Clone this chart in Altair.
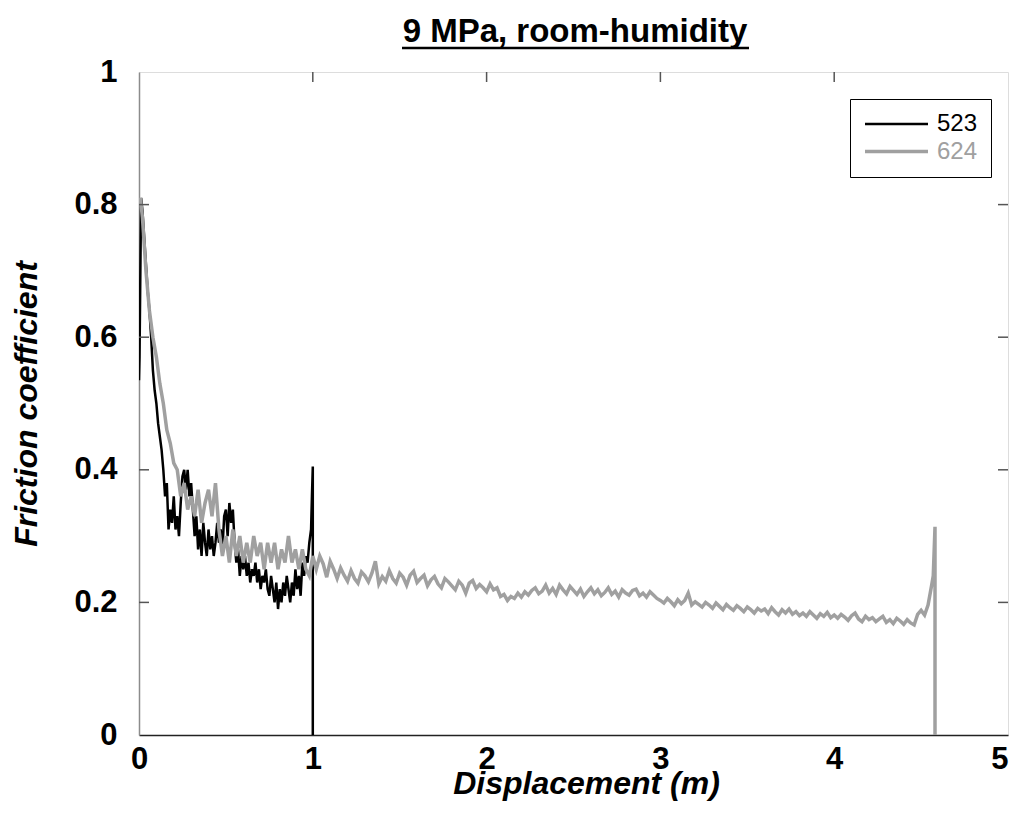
import altair as alt
import pandas as pd

# ---------------- data ----------------
series_names = ["523", "624"]
chart_title = "9 MPa, room-humidity"

# run 523 (black): head points, regular body (step 0.01 from 0.02), tail
x523_head = [0.0, 0.003, 0.012]
y523_head = [0.535, 0.57, 0.81]
x523_body_start, x523_body_step = 0.02, 0.01
y523_body = [
    0.79, 0.75, 0.71, 0.67, 0.64, 0.60, 0.55, 0.52, 0.50, 0.47,
    0.45, 0.43, 0.40, 0.36, 0.38, 0.31, 0.34, 0.32, 0.36, 0.31,
    0.33, 0.30, 0.35, 0.39, 0.40, 0.37, 0.40, 0.36, 0.38, 0.34,
    0.30, 0.33, 0.28, 0.31, 0.27, 0.32, 0.29, 0.27, 0.31, 0.28,
    0.30, 0.27, 0.29, 0.32, 0.29, 0.31, 0.28, 0.33, 0.34, 0.30,
    0.35, 0.32, 0.34, 0.29, 0.26, 0.28, 0.24, 0.27, 0.25, 0.27,
    0.24, 0.26, 0.23, 0.25, 0.24, 0.26, 0.23, 0.25, 0.22, 0.24,
    0.23, 0.25, 0.22, 0.21, 0.24, 0.22, 0.20, 0.23, 0.19, 0.22,
    0.20, 0.23, 0.21, 0.24, 0.22, 0.20, 0.23, 0.21, 0.25, 0.22,
    0.24, 0.21, 0.26, 0.24, 0.27, 0.26, 0.29, 0.31,
]
x523_tail = [0.995, 1.0, 1.0]
y523_tail = [0.36, 0.405, 0.0]

# run 624 (grey): head, regular body (step 0.02 from 0.02), tail
x624_head = [0.0, 0.008]
y624_head = [0.80, 0.81]
x624_body_start, x624_body_step = 0.02, 0.02
y624_body = [
    0.78, 0.70, 0.64, 0.60, 0.57, 0.53, 0.50, 0.46, 0.44, 0.41,
    0.40, 0.36, 0.38, 0.34, 0.36, 0.33, 0.37, 0.32, 0.35, 0.37,
    0.33, 0.38, 0.31, 0.27, 0.30, 0.26, 0.31, 0.27, 0.30, 0.26,
    0.29, 0.26, 0.30, 0.27, 0.29, 0.25, 0.29, 0.26, 0.29, 0.25,
    0.28, 0.26, 0.30, 0.26, 0.28, 0.25, 0.28, 0.25, 0.24, 0.27,
    0.25, 0.27, 0.258, 0.238, 0.262, 0.25, 0.236, 0.252, 0.241, 0.232,
    0.248, 0.236, 0.229, 0.246, 0.24, 0.231, 0.244, 0.262, 0.228, 0.239,
    0.232, 0.248, 0.236, 0.229, 0.244, 0.238, 0.226, 0.241, 0.247, 0.23,
    0.236, 0.241, 0.225, 0.234, 0.239, 0.228, 0.222, 0.236, 0.231, 0.225,
    0.219, 0.232, 0.226, 0.214, 0.229, 0.233, 0.221, 0.227, 0.222, 0.216,
    0.228, 0.219, 0.222, 0.209, 0.212, 0.203, 0.209, 0.206, 0.214, 0.208,
    0.216, 0.211, 0.218, 0.222, 0.213, 0.217, 0.226, 0.214, 0.221, 0.212,
    0.226, 0.219, 0.213, 0.224, 0.218, 0.212, 0.22, 0.209, 0.216, 0.222,
    0.213, 0.219, 0.21, 0.215, 0.222, 0.212, 0.217, 0.208, 0.219, 0.214,
    0.211, 0.218, 0.22, 0.21, 0.214, 0.208, 0.216, 0.211, 0.206, 0.203,
    0.199, 0.206, 0.201, 0.195, 0.204, 0.198, 0.203, 0.214, 0.196, 0.201,
    0.197, 0.193, 0.2, 0.196, 0.191, 0.199, 0.194, 0.189, 0.197, 0.192,
    0.188, 0.195, 0.191, 0.186, 0.193, 0.189, 0.184, 0.191, 0.187, 0.19,
    0.183, 0.192, 0.186, 0.181, 0.189, 0.184, 0.19, 0.182, 0.186, 0.18,
    0.184, 0.179, 0.186, 0.181, 0.176, 0.183, 0.179, 0.185, 0.177, 0.181,
    0.176, 0.182, 0.178, 0.173, 0.18, 0.184, 0.175, 0.171, 0.179, 0.174,
    0.177, 0.171, 0.175, 0.179, 0.17, 0.174, 0.168, 0.176, 0.172, 0.167,
    0.174, 0.169, 0.166, 0.182, 0.188, 0.181, 0.196, 0.225,
]
x624_tail = [4.57, 4.58, 4.58]
y624_tail = [0.24, 0.314, 0.0]

x_ticks = [0, 1, 2, 3, 4, 5]
y_ticks = [0, 0.2, 0.4, 0.6, 0.8, 1]
inner_x_ticks = [1, 2, 3, 4]
inner_y_ticks = [0.2, 0.4, 0.6, 0.8]


def build(name, xh, yh, start, step, yb, xt, yt):
    xb = [round(start + step * i, 4) for i in range(len(yb))]
    xs = list(xh) + xb + list(xt)
    ys = list(yh) + list(yb) + list(yt)
    return pd.DataFrame({"x": xs, "y": ys, "series": name, "order": range(len(xs))})


df = pd.concat([
    build("523", x523_head, y523_head, x523_body_start, x523_body_step, y523_body, x523_tail, y523_tail),
    build("624", x624_head, y624_head, x624_body_start, x624_body_step, y624_body, x624_tail, y624_tail),
], ignore_index=True)

# ---------------- style ----------------
FONT = "Liberation Sans"
W, H = 869, 663
BLACK, GREY = "#000000", "#a0a0a0"
TICK_LEN = 10

xscale = alt.Scale(domain=[0, 5], nice=False, zero=False)
yscale = alt.Scale(domain=[0, 1], nice=False)

lines = alt.Chart(df).mark_line(clip=True, strokeJoin="miter").encode(
    x=alt.X("x:Q", scale=xscale,
            axis=alt.Axis(values=x_ticks, format="d", ticks=False, grid=False,
                          domainColor="#222222", domainWidth=1.5,
                          labelFont=FONT, labelFontSize=31, labelFontWeight="bold",
                          labelColor="#000000", labelPadding=9, labelFlush=False,
                          labelAlign=alt.ExprRef("datum.value >= 5 ? 'right' : 'center'"),
                          title="Displacement (m)", titleFont=FONT, titleFontSize=32,
                          titleFontWeight="bold", titleFontStyle="italic",
                          titleColor="#000000", titleBaseline="alphabetic",
                          titleY=58, titleX=447)),
    y=alt.Y("y:Q", scale=yscale,
            axis=alt.Axis(values=y_ticks, format="~g", ticks=False, grid=False,
                          domainColor="#8c8c8c", domainWidth=1.5,
                          labelFont=FONT, labelFontSize=31, labelFontWeight="bold",
                          labelColor="#000000", labelPadding=22,
                          title="Friction coefficient", titleFont=FONT, titleFontSize=32,
                          titleFontWeight="bold", titleFontStyle="italic",
                          titleColor="#000000", titleBaseline="alphabetic",
                          titleX=-103)),
    color=alt.Color("series:N",
                    scale=alt.Scale(domain=series_names, range=[BLACK, GREY]),
                    legend=alt.Legend(title=None, orient="none", legendX=711, legendY=27,
                                      strokeColor="#000000", fillColor="#ffffff",
                                      padding=13, rowPadding=3,
                                      symbolType="M-1,0H5", symbolSize=441,
                                      symbolStrokeWidth=2,
                                      labelFont=FONT, labelFontSize=24,
                                      labelOffset=49,
                                      labelColor=alt.ExprRef("datum.label == '523' ? '#000000' : '#a0a0a0'"))),
    strokeWidth=alt.StrokeWidth("series:N",
                                scale=alt.Scale(domain=series_names, range=[2.5, 3.5]),
                                legend=None),
    order=alt.Order("order:Q"),
)

tick_style = dict(color="#555555", strokeWidth=1.5)

left_ticks = alt.Chart(pd.DataFrame({"v": inner_y_ticks})).mark_rule(**tick_style).encode(
    y=alt.Y("v:Q", scale=yscale), x=alt.value(0), x2=alt.value(TICK_LEN))
right_ticks = alt.Chart(pd.DataFrame({"v": inner_y_ticks})).mark_rule(**tick_style).encode(
    y=alt.Y("v:Q", scale=yscale), x=alt.value(W - TICK_LEN), x2=alt.value(W))
top_ticks = alt.Chart(pd.DataFrame({"v": inner_x_ticks})).mark_rule(**tick_style).encode(
    x=alt.X("v:Q", scale=xscale), y=alt.value(0), y2=alt.value(TICK_LEN))

# chart title (bold, underlined) drawn as text + rule
title_text = alt.Chart(pd.DataFrame({"t": [chart_title]})).mark_text(
    font=FONT, fontSize=33, fontWeight="bold", color="#000000",
    align="center", baseline="alphabetic").encode(
    text="t:N", x=alt.value(436), y=alt.value(-30))
underline = alt.Chart(pd.DataFrame({"k": [0]})).mark_rule(color="#000000", strokeWidth=2.5).encode(
    x=alt.value(263), x2=alt.value(610), y=alt.value(-24))

chart = alt.layer(lines, left_ticks, right_ticks, top_ticks, title_text, underline).properties(
    width=W, height=H,
    autosize=alt.AutoSizeParams(type="none"),
    padding={"left": 131, "top": 64, "right": 4, "bottom": 72},
).configure_view(stroke="#8c8c8c", strokeWidth=1.5).configure(background="#ffffff")

chart.save("out.html", embed_options={"renderer": "svg", "actions": False})
